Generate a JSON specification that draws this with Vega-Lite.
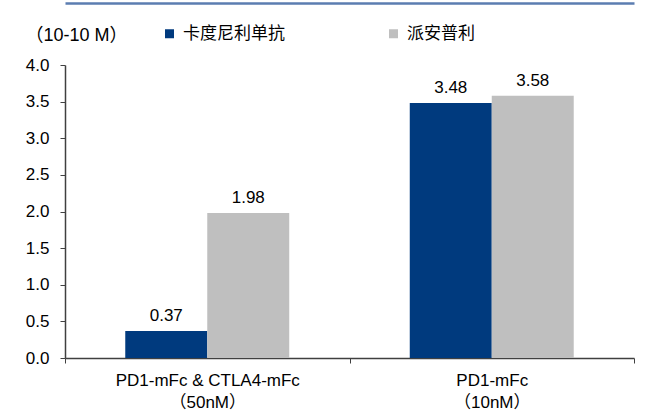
{
  "$schema": "https://vega.github.io/schema/vega-lite/v6.json",
  "width": 569,
  "height": 293,
  "autosize": {"type": "none"},
  "padding": {"left": 65, "top": 65, "right": 25, "bottom": 61},
  "background": "white",
  "data": {
    "values": [
      {"target": "PD1-mFc & CTLA4-mFc|（50nM）", "drug": "卡度尼利单抗", "value": 0.37},
      {"target": "PD1-mFc & CTLA4-mFc|（50nM）", "drug": "派安普利", "value": 1.98},
      {"target": "PD1-mFc|（10nM）", "drug": "卡度尼利单抗", "value": 3.48},
      {"target": "PD1-mFc|（10nM）", "drug": "派安普利", "value": 3.58}
    ]
  },
  "config": {
    "view": {"stroke": null},
    "font": "Liberation Sans, Noto Sans CJK SC"
  },
  "resolve": {"axis": {"x": "independent", "y": "independent"}},
  "layer": [
    {
      "mark": {"type": "bar"},
      "encoding": {
        "x": {
          "field": "target",
          "type": "nominal",
          "sort": null,
          "scale": {"paddingInner": 0, "paddingOuter": 0},
          "axis": {
            "title": null,
            "labelAngle": 0,
            "labelExpr": "split(datum.label, '|')",
            "labelFontSize": 17,
            "labelLimit": 400,
            "labelColor": "#000000",
            "labelLineHeight": 22,
            "labelPadding": 9,
            "tickBand": "extent",
            "tickSize": 5,
            "tickColor": "#404040",
            "domainColor": "#404040",
            "domainWidth": 1.5
          }
        },
        "xOffset": {
          "field": "drug",
          "type": "nominal",
          "scale": {"domain": ["卡度尼利单抗", "派安普利"], "paddingInner": 0, "paddingOuter": 0.735}
        },
        "y": {
          "field": "value",
          "type": "quantitative",
          "scale": {"domain": [0, 4]},
          "axis": {
            "values": [0, 0.5, 1, 1.5, 2, 2.5, 3, 3.5, 4],
            "tickCount": 9,
            "format": ".1f",
            "grid": false,
            "labelOverlap": false,
            "labelFontSize": 17,
            "labelColor": "#000000",
            "labelPadding": 11,
            "tickSize": 5,
            "tickColor": "#404040",
            "domainColor": "#404040",
            "domainWidth": 1.5,
            "title": "（10-10 M）",
            "titleAngle": 0,
            "titleFontSize": 18,
            "titleFontWeight": "normal",
            "titleColor": "#000000",
            "titleAlign": "center",
            "titleBaseline": "middle",
            "titleX": 11,
            "titleY": -30
          }
        },
        "color": {
          "field": "drug",
          "type": "nominal",
          "scale": {"domain": ["卡度尼利单抗", "派安普利"], "range": ["#003A7E", "#BFBFBF"]},
          "legend": {
            "title": null,
            "orient": "none",
            "direction": "horizontal",
            "legendX": 96,
            "legendY": -40,
            "padding": 0,
            "symbolType": "square",
            "symbolSize": 81,
            "symbolStrokeWidth": 0,
            "symbolOpacity": 1,
            "labelFont": "Noto Sans CJK SC",
            "labelFontSize": 17,
            "labelColor": "#000000",
            "labelOffset": 5,
            "columnPadding": 100
          }
        }
      }
    },
    {
      "mark": {"type": "text", "fontSize": 17, "color": "#000000", "dy": -15},
      "encoding": {
        "x": {
          "field": "target",
          "type": "nominal",
          "sort": null,
          "axis": {
            "orient": "top",
            "title": null,
            "labels": false,
            "ticks": false,
            "offset": 62,
            "domainColor": "#5B7DB1",
            "domainWidth": 2.5
          }
        },
        "xOffset": {"field": "drug", "type": "nominal"},
        "y": {"field": "value", "type": "quantitative", "axis": null},
        "text": {"field": "value", "type": "quantitative", "format": ".2f"}
      }
    }
  ]
}
